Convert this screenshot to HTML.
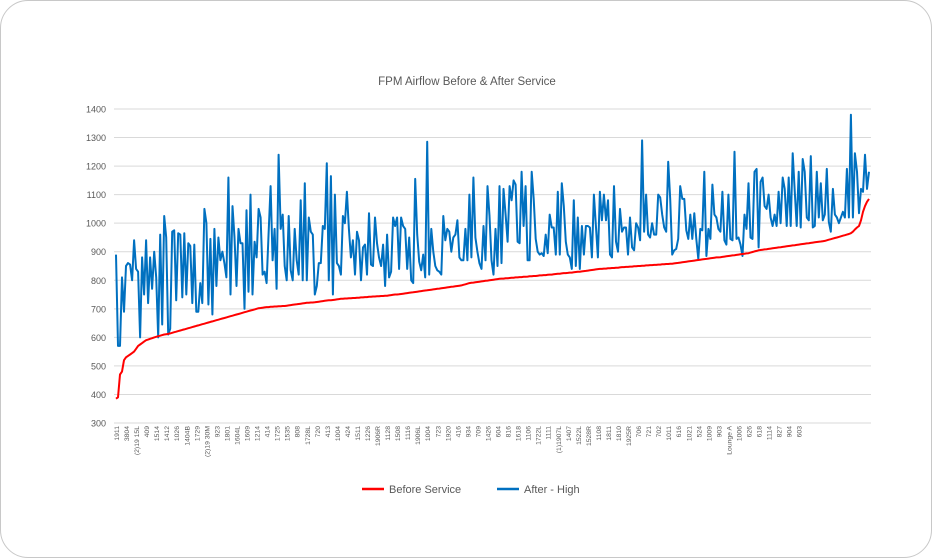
<!DOCTYPE html>
<html><head><meta charset="utf-8"><style>
html,body{margin:0;padding:0;background:#fff;}
#card{position:absolute;left:0;top:0;width:930px;height:556px;border:1px solid #c8c8c8;border-radius:28px;background:#fff;overflow:hidden;}
svg{position:absolute;left:0;top:0;font-family:"Liberation Sans",sans-serif;}
</style></head><body>
<div id="card">
<svg id="chart" width="932" height="558"></svg>
</div>
<script>
const yTicks=[300,400,500,600,700,800,900,1000,1100,1200,1300,1400];
const xLabels=["1911","3804","(2)19 15L","409","1514","1412","1026","1404B","1729","(2)19 30M","923","1801","1604L","1609","1214","414","1725","1535","808","1728L","720","413","1004","424","1511","1226","1906R","1128","1508","1116","1906L","1004","723","1920","416","934","709","1426","604","816","1618","1106","1722L","1111","(1)1907L","1407","1522L","1528R","1108","1811","1810","1925R","706","721","702","1011","616","1021","524","1009","903","Lounge A","1006","626","618","1114","827","904","603"];
const afterHigh=[890,570,570,810,690,850,860,855,800,940,840,830,600,880,750,940,720,880,770,900,810,600,960,645,1025,950,610,630,970,975,730,965,960,740,965,750,930,920,720,925,690,690,790,
720,1050,1000,715,945,680,980,780,950,870,900,860,810,1160,750,1060,950,780,980,930,930,700,1045,760,1100,750,935,880,1050,1020,820,830,790,965,1130,870,980,770,1240,980,1030,850,800,
1025,835,800,980,870,820,1080,800,1140,800,1020,970,960,750,780,860,860,990,980,1210,800,1165,750,1100,860,850,820,1025,1000,1110,980,880,940,820,970,940,800,915,925,820,1035,855,850,1020,930,880,850,925,780,960,810,830,1020,990,
1020,840,1020,990,980,840,950,800,790,1155,960,865,835,890,810,1285,820,980,900,850,835,830,820,1025,940,980,970,900,950,960,1010,880,870,870,980,870,1100,880,1160,950,900,860,840,990,870,1130,1025,870,820,980,850,1130,
860,1120,1030,935,1130,1080,1150,1135,935,930,1180,990,1130,870,870,1180,1085,945,900,890,895,885,960,895,1030,985,985,890,1110,890,1140,1060,935,890,880,840,1080,850,1020,840,990,890,990,990,985,880,1100,
990,880,1110,1010,1100,1010,1080,890,880,1130,935,900,1050,970,985,985,890,1020,915,905,1000,985,940,1290,970,1100,960,950,1000,960,960,1100,1090,1030,985,970,1215,1085,890,905,910,945,1130,1085,1085,975,945,1030,
945,1035,945,875,980,975,1180,885,980,945,1135,1030,1020,980,970,1110,940,925,1100,945,940,1250,945,950,925,885,1030,980,1140,950,945,1180,1190,915,1145,1160,1060,1050,1100,1020,990,1030,990,1110,1000,1160,1120,990,
1160,990,1245,1115,990,1180,985,1225,1180,1020,1010,1235,985,990,1180,1020,1140,1010,1030,1190,1005,970,1120,1030,1020,1000,1020,1040,1020,1190,1020,1380,1020,1245,1180,1035,1120,1110,1240,1120,1180];
const beforeService=[385,390,470,480,520,530,535,540,545,550,560,570,575,580,585,590,592,595,597,600,
602,604,606,608,610,611,612,614,616,618,620,622,624,626,628,630,632,634,636,638,
640,642,644,646,648,650,652,654,656,658,660,662,664,666,668,670,672,674,676,678,
680,682,684,686,688,690,692,694,696,698,700,702,703,704,705,706,706,707,707,708,
708,709,709,710,710,711,712,713,714,715,716,717,718,719,720,721,721,722,722,723,
724,725,726,727,728,729,730,730,731,732,733,734,735,735,736,736,737,737,738,738,
739,739,740,740,741,741,742,742,743,743,744,744,745,745,746,746,747,748,749,750,
750,751,752,753,754,755,756,757,758,759,760,761,762,763,764,765,766,767,768,769,
770,771,772,773,774,775,776,777,778,779,780,781,782,784,786,788,790,791,792,793,
794,795,796,797,798,799,800,801,802,803,804,805,806,806,807,807,808,809,809,810,
810,811,811,812,812,813,814,814,815,815,816,817,817,818,818,819,820,820,821,822,
823,823,824,825,825,826,827,827,828,829,830,830,831,832,833,834,835,836,837,838,
839,840,840,841,841,842,842,843,843,844,844,845,846,846,847,847,848,848,849,849,
850,850,851,851,852,852,853,853,854,854,855,855,856,856,857,857,858,858,859,860,
861,862,863,864,865,866,867,868,869,870,871,872,873,874,875,876,877,878,879,880,
880,881,882,883,884,885,886,887,888,889,890,891,892,893,894,895,897,899,901,903,
905,906,907,908,909,910,911,912,913,914,915,916,917,918,919,920,921,922,923,924,
925,926,927,928,929,930,931,932,933,934,935,936,937,938,940,942,944,946,948,950,
952,954,956,958,960,962,965,970,978,985,990,1010,1040,1060,1075,1085];
const labelEvery=5;

const svg=document.getElementById('chart');
const NS='http://www.w3.org/2000/svg';
const X0=115,X1=868,Y0=422,Y1=108,VMIN=300,VMAX=1400;
const N=Math.max(afterHigh.length,beforeService.length);
function xs(i){return X0+(X1-X0)*i/(N-1);}
function ys(v){return Y0-(v-VMIN)/(VMAX-VMIN)*(Y0-Y1);}
function mk(tag,attrs){const e=document.createElementNS(NS,tag);for(const k in attrs)e.setAttribute(k,attrs[k]);svg.appendChild(e);return e;}

const title=mk('text',{x:466,y:84,'text-anchor':'middle','font-size':11.5,fill:'#595959'});
title.textContent='FPM Airflow Before & After Service';



yTicks.forEach(v=>{
  const g=mk('line',{x1:113,x2:870,y1:ys(v),y2:ys(v),stroke:'#d9d9d9','stroke-width':1});
  
  
  const t=mk('text',{x:105,y:ys(v)+3.5,'text-anchor':'end','font-size':9,fill:'#595959'});
  t.textContent=v;
  
  
});

xLabels.forEach((l,k)=>{
  const x=xs(k*labelEvery)+3;
  const t=mk('text',{x:0,y:0,'text-anchor':'end','font-size':6.8,fill:'#595959',transform:`translate(${x},425) rotate(-90)`});
  t.textContent=l;
  
  
});

function series(arr,color,name){
  const d=arr.map((v,i)=>(i?'L':'M')+xs(i).toFixed(1)+' '+ys(v).toFixed(1)).join(' ');
  const p=mk('path',{d:d,fill:'none',stroke:color,'stroke-width':2,'stroke-linejoin':'round'});
  
  
}
series(afterHigh,'#0070c0','after-high-line');
series(beforeService,'#ff0000','before-service-line');

function legend(x,color,label,name){
  const l=mk('line',{x1:x,x2:x+22,y1:488,y2:488,stroke:color,'stroke-width':2.5});
  
  
  const t=mk('text',{x:x+27,y:492,'font-size':11,fill:'#595959'});
  t.textContent=label;
  
  
}
legend(361,'#ff0000','Before Service','legend-before-service');
legend(496,'#0070c0','After - High','legend-after-high');
</script>
</body></html>
